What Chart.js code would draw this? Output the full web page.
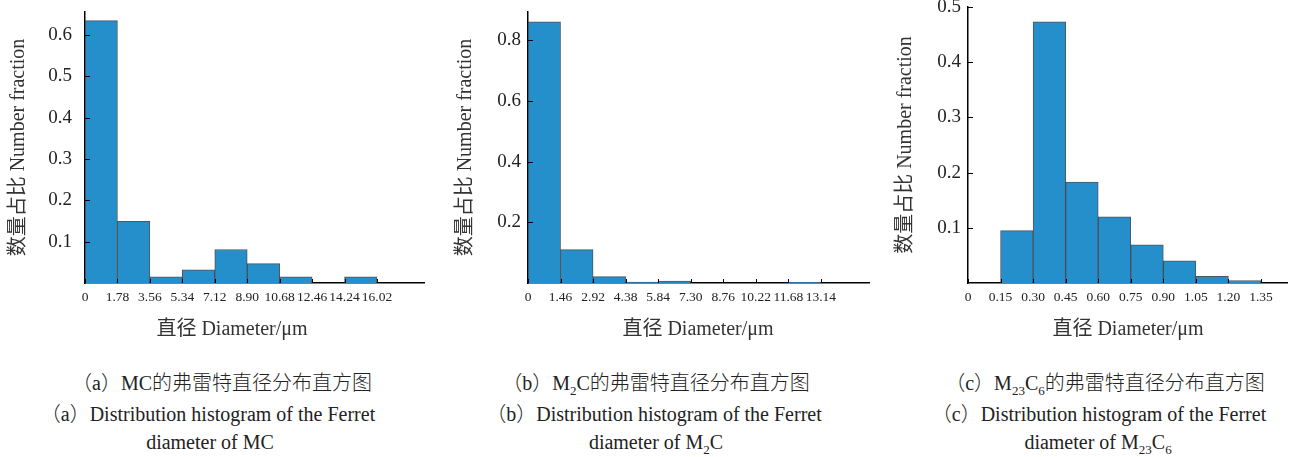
<!DOCTYPE html>
<html>
<head>
<meta charset="utf-8">
<script src="https://cdn.jsdelivr.net/npm/chart.js@4.4.1/dist/chart.umd.min.js"></script>
<style>
body { margin: 0; width: 1290px; height: 457px; background: #fff; position: relative; overflow: hidden;
       font-family: "Liberation Serif", "Tinos", "DejaVu Serif", serif, "Noto Sans CJK SC"; color: #222; }
canvas { position: absolute; top: 0; }
.cap { position: absolute; white-space: nowrap; transform: translate(-50%, -50%); font-size: 20px; font-weight: 300; }
.cap sub { font-size: 13px; vertical-align: -5px; line-height: 0; }
</style>
</head>
<body>
<canvas id="c1" width="430" height="352" style="left:0"></canvas>
<canvas id="c2" width="440" height="352" style="left:430px"></canvas>
<canvas id="c3" width="420" height="352" style="left:870px"></canvas>

<div class="cap" style="left:222px;top:381px">（a）MC的弗雷特直径分布直方图</div>
<div class="cap" style="left:208px;top:412px">（a）Distribution histogram of the Ferret</div>
<div class="cap" style="left:210px;top:442px">diameter of MC</div>

<div class="cap" style="left:656px;top:381px">（b）M<sub>2</sub>C的弗雷特直径分布直方图</div>
<div class="cap" style="left:654px;top:412px">（b）Distribution histogram of the Ferret</div>
<div class="cap" style="left:656px;top:442px">diameter of M<sub>2</sub>C</div>

<div class="cap" style="left:1105px;top:381px">（c）M<sub>23</sub>C<sub>6</sub>的弗雷特直径分布直方图</div>
<div class="cap" style="left:1099px;top:412px">（c）Distribution histogram of the Ferret</div>
<div class="cap" style="left:1098px;top:442px">diameter of M<sub>23</sub>C<sub>6</sub></div>

<script>
// bin edges (x tick labels) and number fraction per bin
const mcTicks = ['0', '1.78', '3.56', '5.34', '7.12', '8.90', '10.68', '12.46', '14.24', '16.02'];
const mcFraction = [0.635, 0.149, 0.015, 0.032, 0.081, 0.047, 0.015, 0, 0.015];
const mcYTicks = [0.1, 0.2, 0.3, 0.4, 0.5, 0.6];

const m2cTicks = ['0', '1.46', '2.92', '4.38', '5.84', '7.30', '8.76', '10.22', '11.68', '13.14'];
const m2cFraction = [0.861, 0.11, 0.021, 0.003, 0.006, 0, 0, 0, 0.002];
const m2cYTicks = [0.2, 0.4, 0.6, 0.8];

const m23c6Ticks = ['0', '0.15', '0.30', '0.45', '0.60', '0.75', '0.90', '1.05', '1.20', '1.35'];
const m23c6Fraction = [0, 0.095, 0.473, 0.183, 0.12, 0.069, 0.04, 0.012, 0.0045];
const m23c6YTicks = [0.1, 0.2, 0.3, 0.4, 0.5];

const serif = '"Liberation Serif", "Tinos", "DejaVu Serif", serif, "Noto Sans CJK SC"';

// small inward tick marks + x axis title
const innerTicks = {
    id: 'innerTicks',
    afterDatasetsDraw(chart, args, opts) {
        const {ctx, chartArea, scales: {x, y}} = chart;
        ctx.save();
        ctx.strokeStyle = '#000';
        ctx.lineWidth = 1;
        ctx.beginPath();
        x.ticks.forEach(t => {
            const px = Math.round(x.getPixelForValue(t.value)) + 0.5;
            ctx.moveTo(px, chartArea.bottom);
            ctx.lineTo(px, chartArea.bottom - 4);
        });
        y.ticks.forEach(t => {
            const py = Math.round(y.getPixelForValue(t.value)) + 0.5;
            ctx.moveTo(chartArea.left, py);
            ctx.lineTo(chartArea.left + 5, py);
        });
        ctx.stroke();
        ctx.font = '20px ' + serif;
        ctx.fillStyle = '#333';
        ctx.textAlign = 'center';
        ctx.textBaseline = 'middle';
        ctx.fillText('直径 Diameter/μm', opts.titleX, opts.titleY);
        ctx.restore();
    }
};

function makeChart(id, ticks, fraction, yTicks, g) {
    const edges = ticks.map(Number);
    const w = edges[1] - edges[0];
    const points = fraction.map((v, i) => ({x: edges[i] + w / 2, y: v}));
    return new Chart(document.getElementById(id), {
        type: 'bar',
        data: {
            datasets: [{
                data: points,
                backgroundColor: 'rgb(36,143,202)',
                borderColor: 'rgba(45,55,68,0.85)',
                borderWidth: 1,
                barPercentage: 1,
                categoryPercentage: 1,
            }]
        },
        options: {
            responsive: false,
            animation: false,
            layout: {padding: {top: g.top, right: g.right, left: 0, bottom: 0}},
            plugins: {
                legend: {display: false},
                tooltip: {enabled: false},
                innerTicks: {titleX: g.titleX, titleY: 330},
            },
            scales: {
                x: {
                    type: 'linear',
                    min: 0,
                    max: g.xMax,
                    offset: false,
                    grid: {display: false, drawTicks: false},
                    border: {color: '#000', width: 1.5},
                    afterBuildTicks: s => { s.ticks = edges.map(v => ({value: v})); },
                    afterFit: s => { s.height = 352 - 283; s.paddingLeft = 0; s.paddingRight = 0; },
                    ticks: {
                        autoSkip: false,
                        maxRotation: 0,
                        padding: 6,
                        color: '#222',
                        font: {family: serif, size: 13.5},
                        callback: (v, i) => ticks[i],
                    },
                },
                y: {
                    min: 0,
                    max: g.yMax,
                    grid: {display: false, drawTicks: false},
                    border: {color: '#000', width: 1.5},
                    afterBuildTicks: s => { s.ticks = yTicks.map(v => ({value: v})); },
                    afterFit: s => { s.width = g.left; s.paddingTop = 0; s.paddingBottom = 0; },
                    ticks: {
                        padding: g.yTickPad,
                        color: '#222',
                        font: {family: serif, size: 19},
                        callback: v => v.toFixed(1),
                    },
                    title: {
                        display: true,
                        text: '数量占比 Number fraction',
                        color: '#333',
                        font: {family: serif, size: 20},
                        padding: {top: g.yTitlePad, bottom: 0},
                    },
                },
            },
        },
        plugins: [innerTicks],
    });
}

makeChart('c1', mcTicks, mcFraction, mcYTicks,
    {xMax: 18.6, yMax: 0.656, top: 12, right: 6, left: 85, yTickPad: 13, yTitlePad: 6.5, titleX: 232});
makeChart('c2', m2cTicks, m2cFraction, m2cYTicks,
    {xMax: 15.3, yMax: 0.893, top: 12, right: 1, left: 98, yTickPad: 7, yTitlePad: 23.5, titleX: 268});
makeChart('c3', m23c6Ticks, m23c6Fraction, m23c6YTicks,
    {xMax: 1.47, yMax: 0.5, top: 7, right: 3, left: 98, yTickPad: 7, yTitlePad: 24, titleX: 258});
</script>
</body>
</html>
